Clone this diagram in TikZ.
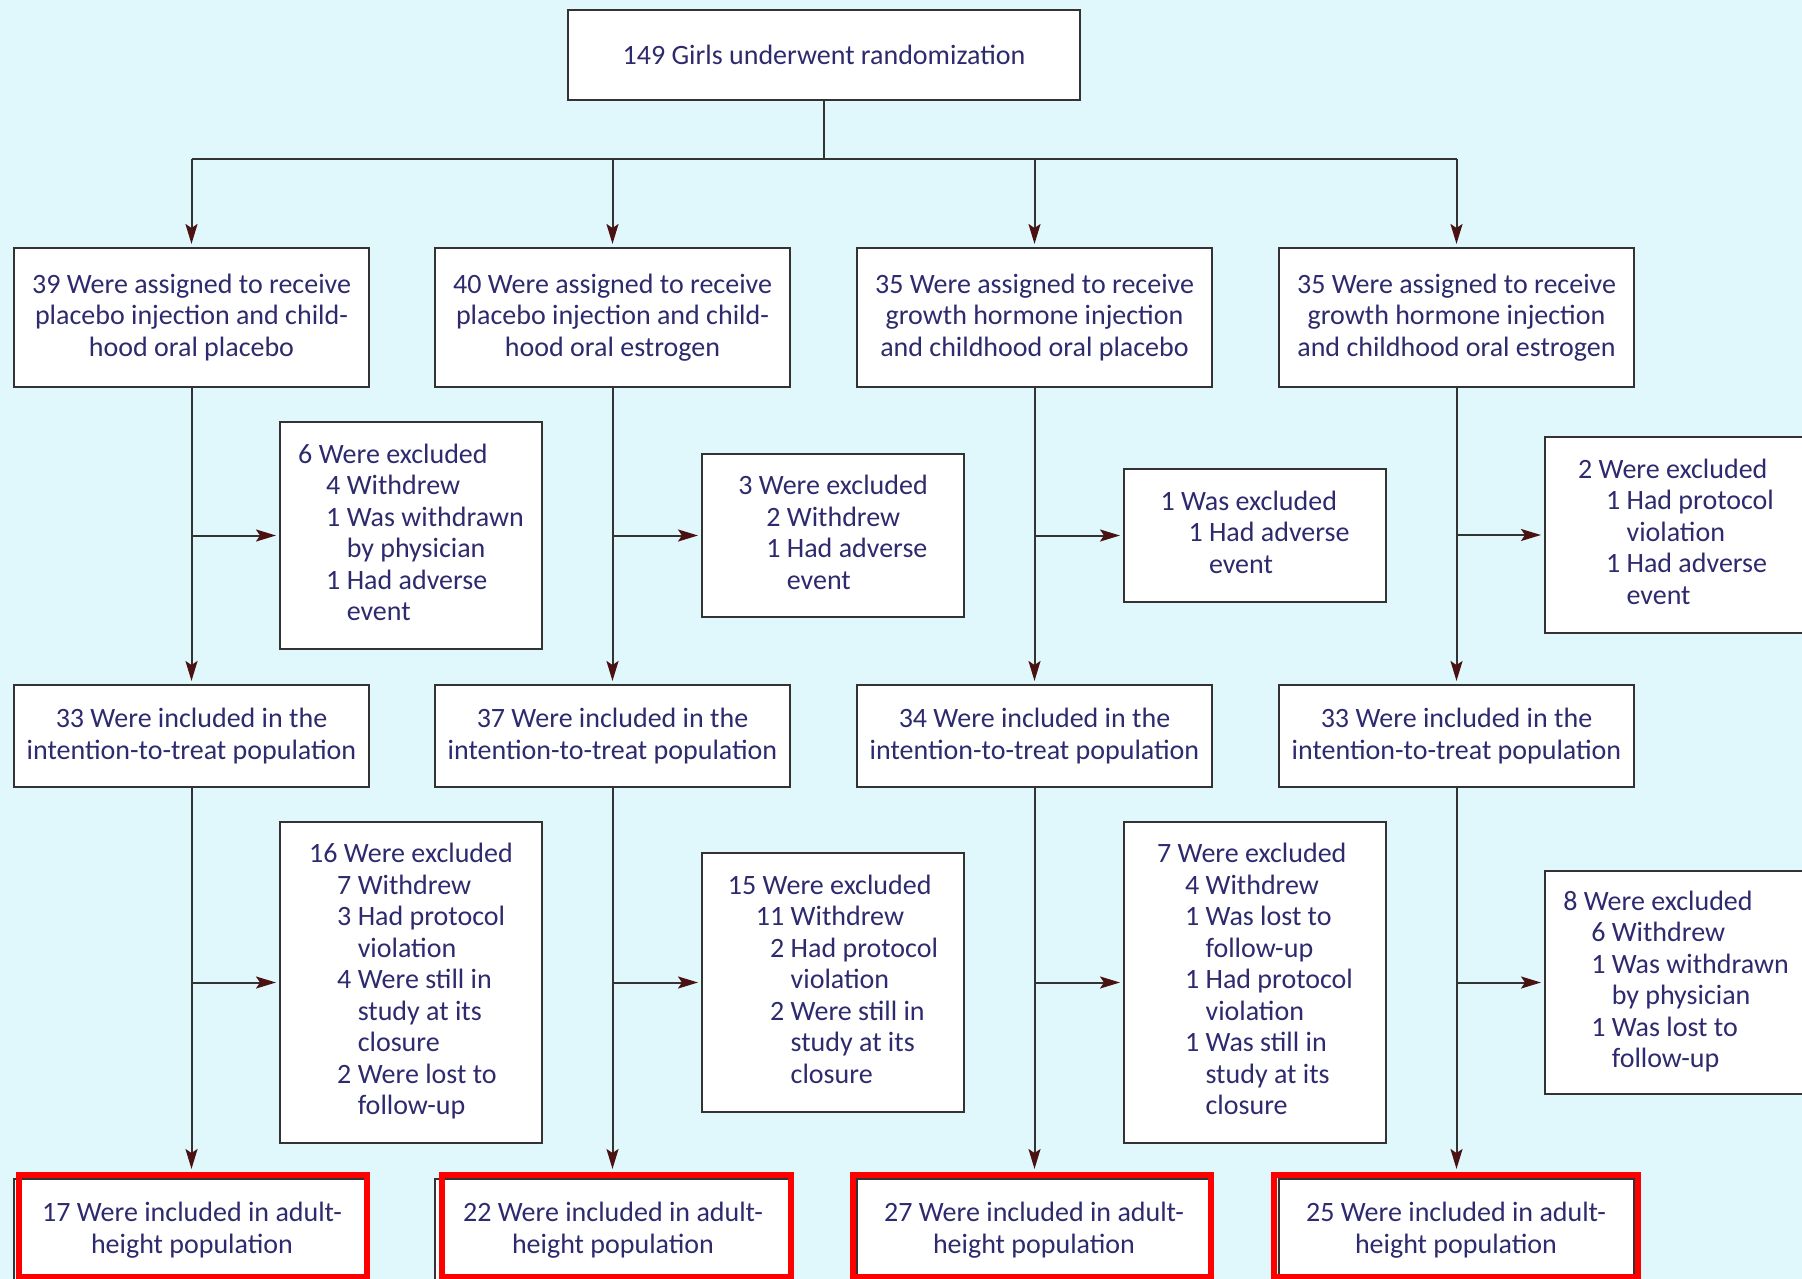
\documentclass[tikz,border=0pt]{standalone}
\usepackage{fontspec}
\setmainfont{Carlito}
\usetikzlibrary{arrows.meta}
\definecolor{bgc}{HTML}{E0F8FB}
\definecolor{txt}{HTML}{2E2A6E}
\definecolor{ln}{HTML}{333333}
\definecolor{tipc}{HTML}{4A1212}
\definecolor{hl}{HTML}{FF0000}
\newcommand{\xhead}[1]{\multicolumn{2}{@{}l@{}}{#1}}
\newenvironment{xlist}{\begin{tabular}{@{\hspace{28pt}}r@{\ }l@{}}}{\end{tabular}}
\tikzset{
  txtfont/.style={font=\fontsize{28}{31.5}\selectfont},
  box/.style={draw=ln, line width=2pt, fill=white, inner sep=0pt, text=txt, txtfont, align=center},
  conn/.style={draw=ln, line width=2pt},
  arr/.style={conn, shorten >=3pt, -{Stealth[length=20pt,width=12pt,inset=4pt,color=tipc]}},
  redbox/.style={draw=hl, line width=6pt, inner sep=0pt},
  lbl/.style={text=txt, txtfont, align=center, inner sep=0pt},
}
\begin{document}
\begin{tikzpicture}[x=1pt,y=-1pt]
\useasboundingbox (0,0) rectangle (1802,1279);
\clip (0,0) rectangle (1802,1279);
\fill[bgc] (0,0) rectangle (1802,1279);

% top
\node[box, minimum width=512pt, minimum height=90pt] (top) at (824,55) {149 Girls underwent randomization};

% arms
\node[box, minimum width=355pt, minimum height=139pt] (a1) at (191.5,317.5) {39 Were assigned to receive\\placebo injection and child-\\hood oral placebo};
\node[box, minimum width=355pt, minimum height=139pt] (a2) at (612.5,317.5) {40 Were assigned to receive\\placebo injection and child-\\hood oral estrogen};
\node[box, minimum width=355pt, minimum height=139pt] (a3) at (1034.5,317.5) {35 Were assigned to receive\\growth hormone injection\\and childhood oral placebo};
\node[box, minimum width=355pt, minimum height=139pt] (a4) at (1456.5,317.5) {35 Were assigned to receive\\growth hormone injection\\and childhood oral estrogen};

% exclusions 1
\node[box, minimum width=262pt, minimum height=227pt] (e1) at (411,535.5) {\begin{xlist}
\xhead{6 Were excluded}\\
4 & Withdrew\\
1 & Was withdrawn\\
 & by physician\\
1 & Had adverse\\
 & event
\end{xlist}};
\node[box, minimum width=262pt, minimum height=163pt] (e2) at (833,535.5) {\begin{xlist}
\xhead{3 Were excluded}\\
2 & Withdrew\\
1 & Had adverse\\
 & event
\end{xlist}};
\node[box, minimum width=262pt, minimum height=133pt] (e3) at (1255,535.5) {\begin{xlist}
\xhead{1 Was excluded}\\
1 & Had adverse\\
 & event
\end{xlist}};
\node[box, minimum width=262pt, minimum height=196pt] (e4) at (1676,535) {\begin{xlist}
\xhead{2 Were excluded}\\
1 & Had protocol\\
 & violation\\
1 & Had adverse\\
 & event
\end{xlist}};

% ITT
\node[box, minimum width=355pt, minimum height=102pt] (i1) at (191.5,736) {33 Were included in the\\intention-to-treat population};
\node[box, minimum width=355pt, minimum height=102pt] (i2) at (612.5,736) {37 Were included in the\\intention-to-treat population};
\node[box, minimum width=355pt, minimum height=102pt] (i3) at (1034.5,736) {34 Were included in the\\intention-to-treat population};
\node[box, minimum width=355pt, minimum height=102pt] (i4) at (1456.5,736) {33 Were included in the\\intention-to-treat population};

% exclusions 2
\node[box, minimum width=262pt, minimum height=321pt] (f1) at (411,982.5) {\begin{xlist}
\xhead{16 Were excluded}\\
7 & Withdrew\\
3 & Had protocol\\
 & violation\\
4 & Were still in\\
 & study at its\\
 & closure\\
2 & Were lost to\\
 & follow-up
\end{xlist}};
\node[box, minimum width=262pt, minimum height=259pt] (f2) at (833,982.5) {\begin{xlist}
\xhead{15 Were excluded}\\
11 & Withdrew\\
2 & Had protocol\\
 & violation\\
2 & Were still in\\
 & study at its\\
 & closure
\end{xlist}};
\node[box, minimum width=262pt, minimum height=321pt] (f3) at (1255,982.5) {\begin{xlist}
\xhead{7 Were excluded}\\
4 & Withdrew\\
1 & Was lost to\\
 & follow-up\\
1 & Had protocol\\
 & violation\\
1 & Was still in\\
 & study at its\\
 & closure
\end{xlist}};
\node[box, minimum width=262pt, minimum height=223pt] (f4) at (1676,982.5) {\begin{xlist}
\xhead{8 Were excluded}\\
6 & Withdrew\\
1 & Was withdrawn\\
 & by physician\\
1 & Was lost to\\
 & follow-up
\end{xlist}};

% bottom (thin boxes under red highlight)
\node[box, minimum width=355pt, minimum height=121pt] (h1) at (191.5,1239.5) {};
\node[box, minimum width=355pt, minimum height=121pt] (h2) at (612.5,1239.5) {};
\node[box, minimum width=355pt, minimum height=121pt] (h3) at (1034.5,1239.5) {};
\node[box, minimum width=355pt, minimum height=121pt] (h4) at (1456.5,1239.5) {};
\node[redbox, minimum width=348pt, minimum height=102pt] (g1) at (193,1226) {};
\node[redbox, minimum width=349pt, minimum height=102pt] (g2) at (616.5,1226) {};
\node[redbox, minimum width=358pt, minimum height=102pt] (g3) at (1032,1226) {};
\node[redbox, minimum width=364pt, minimum height=102pt] (g4) at (1456,1226) {};
\node[lbl] (t1) at (192,1230) {17 Were included in adult-\\height population};
\node[lbl] (t2) at (613,1230) {22 Were included in adult-\\height population};
\node[lbl] (t3) at (1034,1230) {27 Were included in adult-\\height population};
\node[lbl] (t4) at (1456,1230) {25 Were included in adult-\\height population};

% connectors
\coordinate (split) at (824,159);
\draw[conn] (top.south) -- (split);
\draw[conn] (a1.north |- split) -- (a4.north |- split);
\foreach \n in {a1,a2,a3,a4}{
  \draw[arr] (\n.north |- split) -- (\n.north);
}
\foreach \a/\e/\i/\f/\g in {a1/e1/i1/f1/g1, a2/e2/i2/f2/g2, a3/e3/i3/f3/g3, a4/e4/i4/f4/g4}{
  \draw[arr] (\a.south) -- (\i.north);
  \draw[arr] (\a.south |- \e.west) -- (\e.west);
  \draw[arr] (\i.south) -- (\i.south |- \g.north);
  \draw[arr] (\i.south |- \f.west) -- (\f.west);
}
\end{tikzpicture}
\end{document}
